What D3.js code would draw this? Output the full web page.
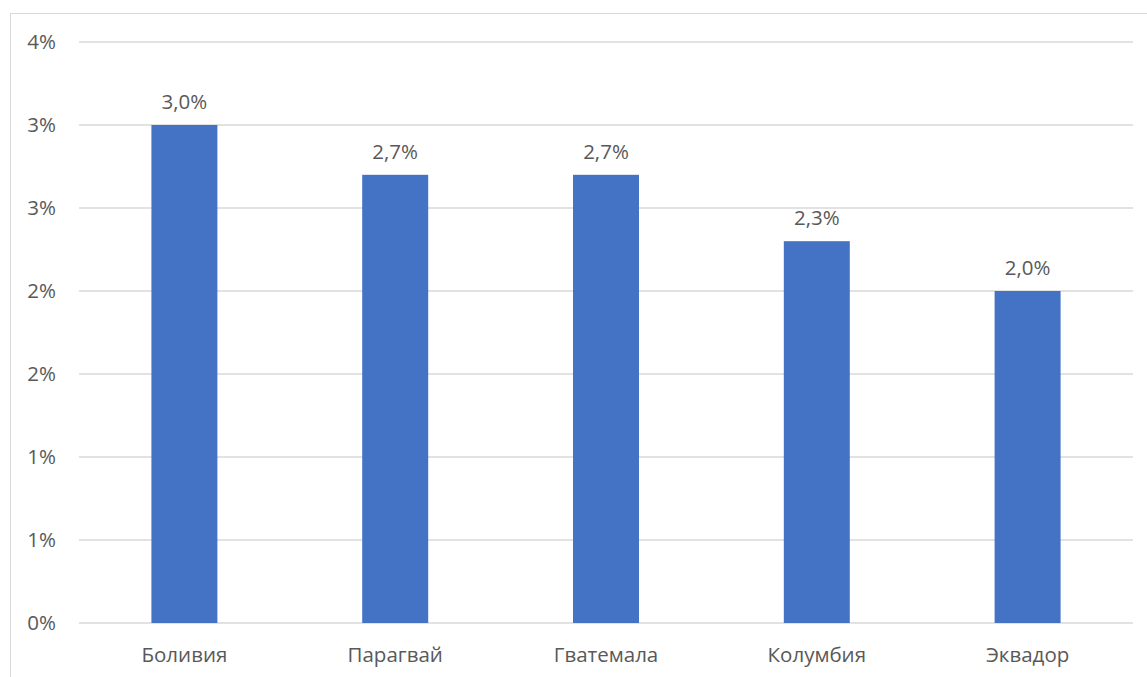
<!DOCTYPE html>
<html><head><meta charset="utf-8">
<script src="https://cdn.jsdelivr.net/npm/d3@7"></script>
<style>body{margin:0;background:#fff;} svg{display:block;} text{font-family:"Open Sans","Noto Sans",sans-serif;fill:#595959;}</style>
</head><body>
<svg id="c" width="1147" height="677"></svg>
<script>
const categories = ["Боливия","Парагвай","Гватемала","Колумбия","Эквадор"];
const values = [3.0, 2.7, 2.7, 2.3, 2.0];
const valueLabels = ["3,0%","2,7%","2,7%","2,3%","2,0%"];
const yTicks = [0,0.5,1,1.5,2,2.5,3,3.5];
const yTickLabels = ["0%","1%","1%","2%","2%","3%","3%","4%"];

const svg = d3.select("#c");
const m = {left:79, right:1133, top:42, bottom:623};
svg.append("rect").attr("x",10.5).attr("y",13.5).attr("width",1160).attr("height",700)
  .attr("fill","none").attr("stroke","#d9d9d9").attr("stroke-width",1);

const x = d3.scaleBand().domain(categories).range([m.left,m.right]).paddingInner(0.687).paddingOuter(0.3435);
const y = d3.scaleLinear().domain([0,3.5]).range([m.bottom,m.top]);

svg.append("g").selectAll("line").data(yTicks).join("line")
  .attr("x1",m.left).attr("x2",m.right).attr("y1",d=>y(d)).attr("y2",d=>y(d))
  .attr("stroke","#d9d9d9").attr("stroke-width",1.5);

svg.append("g").selectAll("text").data(yTicks).join("text")
  .attr("x",56).attr("y",d=>y(d)).attr("dy","0.36em").attr("text-anchor","end")
  .attr("font-size",20.5).text((d,i)=>yTickLabels[i]);

svg.append("g").selectAll("rect").data(values).join("rect")
  .attr("x",(d,i)=>x(categories[i])).attr("width",x.bandwidth())
  .attr("y",d=>y(d)).attr("height",d=>y(0)-y(d)).attr("fill","#4472C4");

svg.append("g").selectAll("text").data(values).join("text")
  .attr("x",(d,i)=>x(categories[i])+x.bandwidth()/2).attr("y",d=>y(d)-16)
  .attr("text-anchor","middle").attr("font-size",20.5).text((d,i)=>valueLabels[i]);

svg.append("g").selectAll("text").data(categories).join("text")
  .attr("x",d=>x(d)+x.bandwidth()/2).attr("y",662)
  .attr("text-anchor","middle").attr("font-size",20.5).text(d=>d);
</script>
</body></html>
